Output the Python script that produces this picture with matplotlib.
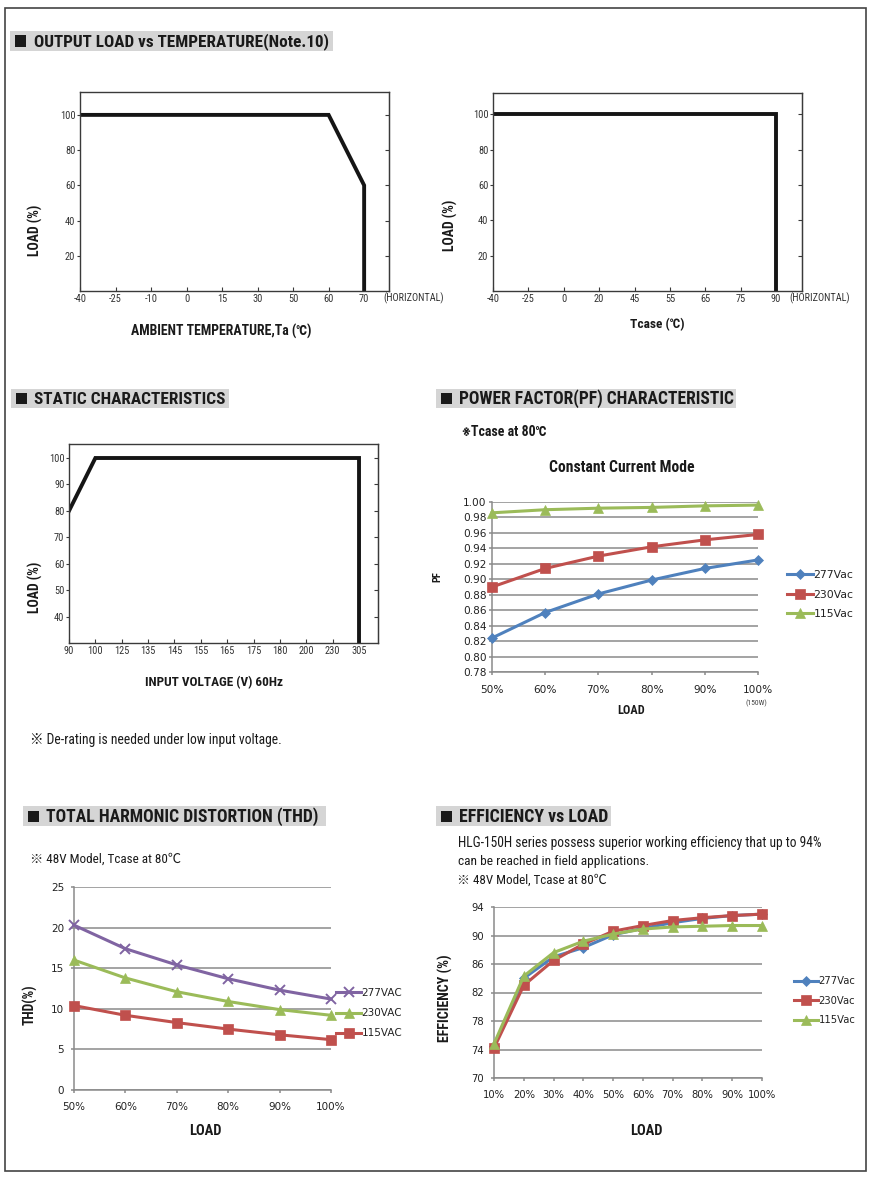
import matplotlib
matplotlib.use('Agg')
import matplotlib.pyplot as plt
from matplotlib import font_manager
from matplotlib.patches import Rectangle

W, H = 874, 1179

# ---- values ----
temp_ticks = [-40, -25, -10, 0, 15, 30, 50, 60, 70]
temp_curve_t = [-40, 60, 70, 70]
temp_curve_load = [100, 100, 60, 0]

tcase_ticks = [-40, -25, 0, 20, 45, 55, 65, 75, 90]
tcase_curve_t = [-40, 90, 90]
tcase_curve_load = [100, 100, 0]

vin_ticks = [90, 100, 125, 135, 145, 155, 165, 175, 180, 200, 230, 305]
vin_curve_v = [90, 100, 305, 305]
vin_curve_load = [80, 100, 100, 0]

pf_load = ['50%', '60%', '70%', '80%', '90%', '100%']
pf_277 = [0.824, 0.857, 0.881, 0.899, 0.914, 0.925]
pf_230 = [0.890, 0.914, 0.930, 0.942, 0.951, 0.958]
pf_115 = [0.986, 0.990, 0.992, 0.993, 0.995, 0.996]
pf_yticks = [0.78, 0.80, 0.82, 0.84, 0.86, 0.88, 0.90, 0.92, 0.94, 0.96, 0.98, 1.00]

thd_load = ['50%', '60%', '70%', '80%', '90%', '100%']
thd_277 = [20.3, 17.4, 15.4, 13.7, 12.3, 11.2]
thd_230 = [16.0, 13.8, 12.1, 10.9, 9.9, 9.2]
thd_115 = [10.4, 9.2, 8.3, 7.5, 6.8, 6.2]
thd_yticks = [0, 5, 10, 15, 20, 25]

eff_load = ['10%', '20%', '30%', '40%', '50%', '60%', '70%', '80%', '90%', '100%']
eff_277 = [74.5, 84.0, 87.0, 88.3, 90.1, 91.0, 91.8, 92.4, 92.8, 93.0]
eff_230 = [74.2, 83.0, 86.5, 88.8, 90.6, 91.4, 92.1, 92.5, 92.8, 93.0]
eff_115 = [74.8, 84.3, 87.6, 89.2, 90.2, 90.9, 91.2, 91.3, 91.4, 91.4]
eff_yticks = [70, 74, 78, 82, 86, 90, 94]

BLUE, RED, GREEN, PURPLE = '#4f81bd', '#c0504d', '#9bbb59', '#8064a2'
GRID = '#8a8a8a'

# datasheet text is set in a condensed sans; use one if the system has it
CONDENSED = ('condensed', 'semi-condensed', 'extra-condensed', 'ultra-condensed')
faces = font_manager.fontManager.ttflist
pick, stretch = None, 'normal'
for pref in ['Liberation Sans Narrow', 'Roboto Condensed', 'Open Sans Condensed',
             'Noto Sans', 'DejaVu Sans', 'Roboto', 'Open Sans', 'Lato', 'Inter']:
    for f in faces:
        named = f.name == pref and ('Narrow' in pref or 'Condensed' in pref)
        stretched = f.name == pref and f.stretch in CONDENSED
        if named or stretched:
            pick = pref
            stretch = 'normal' if named else 'condensed'
            break
    if pick:
        break
if pick is None:
    for f in faces:
        if 'Narrow' in f.name or 'Condensed' in f.name:
            pick = f.name
            break
if pick is None:
    pick = 'Liberation Sans'

NARROW = [pick, 'Noto Sans CJK SC', 'DejaVu Sans']
WIDE = ['DejaVu Sans']
plt.rcParams['font.family'] = NARROW
plt.rcParams['font.stretch'] = stretch

fig = plt.figure(figsize=(W / 100, H / 100), dpi=100)
R = fig.canvas.get_renderer()


def fx(x):
    return x / W


def fy(y):
    return 1 - y / H


def rect(x0, y0, x1, y1):
    return [x0 / W, 1 - y1 / H, (x1 - x0) / W, (y1 - y0) / H]


def put(x, y, s, size=8, weight='normal', ha='left', rot=0, fit=None,
        family=None, color='#1a1a1a'):
    t = fig.text(fx(x), fy(y), s, fontsize=size, fontweight=weight, ha=ha,
                 va='center', rotation=rot, family=family or NARROW,
                 fontstretch='normal' if family else stretch, color=color)
    if fit:
        bb = t.get_window_extent(R)
        t.set_fontsize(size * fit / max(bb.width, bb.height))
    return t


def header(x0, x1, y0, y1, tx, tw, s):
    fig.add_artist(Rectangle((fx(x0), fy(y1)), (x1 - x0) / W, (y1 - y0) / H,
                             transform=fig.transFigure, fc='#d5d5d5', ec='none'))
    yc = (y0 + y1) / 2
    fig.add_artist(Rectangle((fx(x0 + 5), fy(yc + 5.5)), 11 / W, 11 / H,
                             transform=fig.transFigure, fc='#1a1a1a', ec='none'))
    put(tx, yc + 0.5, s, 12, 'bold', fit=tw)


def derate(px, ticks, cx, cy, ylim, yticks, xmax):
    ax = fig.add_axes(rect(*px))
    pos = [ticks.index(v) for v in cx]
    ax.plot(pos, cy, color='#151515', lw=2.8, solid_joinstyle='miter')
    ax.set_xlim(0, xmax)
    ax.set_ylim(*ylim)
    ax.set_xticks(range(len(ticks)))
    ax.set_xticklabels([str(t) for t in ticks])
    ax.set_yticks(yticks)
    for s in ax.spines.values():
        s.set_color('#3a3a3a')
        s.set_linewidth(1.0)
    ax.tick_params(axis='x', direction='in', length=3, color='#3a3a3a',
                   labelsize=7.5, labelcolor='#333333', pad=2)
    ax.tick_params(axis='y', direction='out', length=2.5, color='#3a3a3a',
                   labelsize=7.5, labelcolor='#333333', pad=0.8)
    sec = ax.secondary_yaxis('right')
    sec.set_yticks(yticks)
    sec.tick_params(direction='in', length=3, color='#3a3a3a', labelright=False)
    sec.spines['right'].set_color('#3a3a3a')
    return ax


def excel(px, cats, series, ylim, yticks, fmt, tick_fs, xpad, ypad,
          leg_xy, leg_fs, leg_sp):
    ax = fig.add_axes(rect(*px))
    xs = list(range(len(cats)))
    for vals, color, mk, ms, lab in series:
        ax.plot(xs, vals, color=color, lw=2.2, marker=mk, ms=ms,
                mew=1.4 if mk == 'x' else 0.5, mec=color, mfc=color,
                label=lab, clip_on=False, zorder=3)
    ax.set_xlim(0, len(cats) - 1)
    ax.set_ylim(*ylim)
    ax.set_xticks(xs)
    ax.set_xticklabels(cats)
    ax.set_yticks(yticks)
    ax.set_yticklabels([fmt.format(v) for v in yticks])
    ax.grid(axis='y', color=GRID, lw=1.1)
    ax.set_axisbelow(True)
    for s in ('top', 'right'):
        ax.spines[s].set_visible(False)
    for s in ('left', 'bottom'):
        ax.spines[s].set_color(GRID)
        ax.spines[s].set_linewidth(1.1)
    ax.tick_params(direction='out', length=2.5, width=1.1, color=GRID,
                   labelsize=tick_fs, labelcolor='#222222')
    ax.tick_params(axis='x', pad=xpad)
    ax.tick_params(axis='y', pad=ypad)
    for lbl in ax.get_xticklabels() + ax.get_yticklabels():
        lbl.set_family(WIDE)
        lbl.set_stretch('normal')
    ax.legend(loc='upper left', bbox_to_anchor=(fx(leg_xy[0]), fy(leg_xy[1])),
              bbox_transform=fig.transFigure, frameon=False,
              prop={'family': WIDE, 'size': leg_fs, 'stretch': 'normal'},
              handlelength=2.4, handletextpad=0.05, borderpad=0,
              borderaxespad=0, labelspacing=leg_sp, labelcolor='#222222')
    return ax


# page frame
fig.add_artist(Rectangle((fx(5), fy(1171)), 861 / W, 1163 / H,
                         transform=fig.transFigure, fill=False,
                         ec='#444444', lw=1.2))

# section headers
header(10, 333, 31, 51, 34, 296, 'OUTPUT LOAD vs TEMPERATURE(Note.10)')
header(11, 229, 389, 408, 34, 191, 'STATIC CHARACTERISTICS')
header(436, 736, 389, 408, 459, 276, 'POWER FACTOR(PF) CHARACTERISTIC')
header(23, 326, 806, 826, 46, 272, 'TOTAL HARMONIC DISTORTION (THD)')
header(436, 611, 806, 826, 459, 149, 'EFFICIENCY vs LOAD')

# output load vs ambient temperature
derate((80, 92, 389, 291), temp_ticks, temp_curve_t, temp_curve_load,
       (0, 113), [20, 40, 60, 80, 100], 8.7)
put(383, 298, '(HORIZONTAL)', 7.3, color='#333333', fit=61)
put(221, 331, 'AMBIENT TEMPERATURE,Ta (℃)', 9, 'bold', ha='center', fit=182)
put(35, 230, 'LOAD (%)', 9, 'bold', ha='center', rot=90, fit=52)

# output load vs case temperature
derate((493, 93, 802, 291), tcase_ticks, tcase_curve_t, tcase_curve_load,
       (0, 112), [20, 40, 60, 80, 100], 8.73)
put(789, 298, '(HORIZONTAL)', 7.3, color='#333333', fit=61)
put(657, 325, 'Tcase (℃)', 9, 'bold', ha='center', fit=55)
put(450, 225, 'LOAD (%)', 9, 'bold', ha='center', rot=90, fit=52)

# static characteristics
derate((69, 444, 378, 643), vin_ticks, vin_curve_v, vin_curve_load,
       (30, 105.3), [40, 50, 60, 70, 80, 90, 100], 11.72)
put(214, 683, 'INPUT VOLTAGE (V) 60Hz', 9, 'bold', ha='center', fit=139)
put(35, 587, 'LOAD (%)', 9, 'bold', ha='center', rot=90, fit=52)
put(30, 740, '※ De-rating is needed under low input voltage.', 9, fit=252)

# power factor
excel((492, 502, 758, 672), pf_load,
      [(pf_277, BLUE, 'D', 5.5, '277Vac'),
       (pf_230, RED, 's', 7, '230Vac'),
       (pf_115, GREEN, '^', 7.5, '115Vac')],
      (0.78, 1.0), pf_yticks, '{:.2f}', 7.6, 7, 1.5, (787, 570), 7.8, 0.88)
put(462, 432, '※Tcase at 80℃', 9, 'bold', fit=85)
put(622, 468, 'Constant Current Mode', 9, 'bold', ha='center', fit=145)
put(437, 577, 'PF', 7.5, 'bold', ha='center', rot=90)
put(631, 710, 'LOAD', 8.5, 'bold', ha='center', fit=27)
put(756, 703, '(150W)', 5.5, ha='center', color='#444444')

# total harmonic distortion
excel((74, 887, 331, 1090), thd_load,
      [(thd_277, PURPLE, 'x', 6.5, '277VAC'),
       (thd_230, GREEN, '^', 7.5, '230VAC'),
       (thd_115, RED, 's', 7, '115VAC')],
      (0, 25), thd_yticks, '{:d}', 7.5, 6.5, 4.5, (336, 988), 7.5, 0.98)
put(30, 859, '※ 48V Model, Tcase at 80℃', 9, fit=152)
put(205, 1131, 'LOAD', 8.5, 'bold', ha='center', fit=32)
put(30, 1005, 'THD(%)', 9, 'bold', ha='center', rot=90, fit=41)

# efficiency
excel((494, 907, 762, 1078), eff_load,
      [(eff_277, BLUE, 'D', 5.5, '277Vac'),
       (eff_230, RED, 's', 7, '230Vac'),
       (eff_115, GREEN, '^', 7.5, '115Vac')],
      (70, 94), eff_yticks, '{:d}', 7.2, 6.5, 5, (794, 976), 7.2, 0.95)
put(458, 843, 'HLG-150H series possess superior working efficiency that up to 94%', 9, fit=365)
put(458, 861, 'can be reached in field applications.', 9, fit=191)
put(457, 880, '※ 48V Model, Tcase at 80℃', 9, fit=150)
put(646, 1131, 'LOAD', 8.5, 'bold', ha='center', fit=32)
put(445, 998, 'EFFICIENCY (%)', 9, 'bold', ha='center', rot=90, fit=88)

fig.savefig('out.png', dpi=100)
